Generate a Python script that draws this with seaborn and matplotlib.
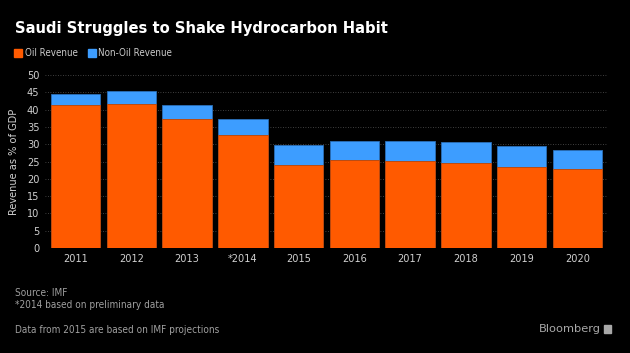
import pandas as pd
import matplotlib.pyplot as plt
import seaborn as sns

years = ['2011', '2012', '2013', '*2014', '2015', '2016', '2017', '2018', '2019', '2020']
oil_revenue = [41.3, 41.6, 37.3, 32.7, 24.1, 25.3, 25.1, 24.7, 23.5, 22.8]
non_oil_revenue = [3.3, 3.8, 4.1, 4.6, 5.8, 5.5, 5.9, 5.8, 5.9, 5.6]

ORANGE = '#ff5a00'
BLUE = '#3d9dff'
BG = '#000000'

df = pd.DataFrame({'year': years, 'oil': oil_revenue, 'non_oil': non_oil_revenue})
df['total'] = df['oil'] + df['non_oil']

sns.set_style('dark')
plt.rcParams['font.family'] = ['DejaVu Sans']
plt.rcParams['font.stretch'] = 'condensed'

fig = plt.figure(figsize=(6.3, 3.53), dpi=100, facecolor=BG)
ax = fig.add_axes([45 / 630, 1 - 248 / 353, 563 / 630, 173 / 353])
ax.set_facecolor(BG)

# stacked: total (blue) behind, oil (orange) in front
sns.barplot(data=df, x='year', y='total', color=BLUE, saturation=1, width=0.89,
            linewidth=0.6, edgecolor='#2a6fb8', ax=ax, zorder=2)
sns.barplot(data=df, x='year', y='oil', color=ORANGE, saturation=1, width=0.89,
            linewidth=0.6, edgecolor='#c04400', ax=ax, zorder=3)

ax.set_ylim(0, 50)
ax.set_xlim(-0.55, 9.55)
ax.set_yticks(range(0, 51, 5))
ax.grid(True, axis='y', linestyle=(0, (1, 2)), color='#555555', linewidth=0.6, zorder=0)
ax.grid(False, axis='x')
for s in ax.spines.values():
    s.set_visible(False)
ax.tick_params(axis='both', colors='#d0d0d0', labelsize=7.8, length=0, pad=4)
ax.set_xlabel('')
ax.set_ylabel('Revenue as % of GDP', color='#d0d0d0', fontsize=7.8, labelpad=6)

fig.text(15 / 630, 1 - 28 / 353, 'Saudi Struggles to Shake Hydrocarbon Habit',
         color='white', fontsize=11.8, fontweight='bold', va='center', ha='left')

# legend
fig.patches.append(plt.Rectangle((14 / 630, 1 - 57 / 353), 8 / 630, 8 / 353,
                                 transform=fig.transFigure, color=ORANGE))
fig.text(25 / 630, 1 - 53.5 / 353, 'Oil Revenue', color='#cccccc', fontsize=7, va='center')
fig.patches.append(plt.Rectangle((88 / 630, 1 - 57 / 353), 8 / 630, 8 / 353,
                                 transform=fig.transFigure, color=BLUE))
fig.text(98 / 630, 1 - 53.5 / 353, 'Non-Oil Revenue', color='#cccccc', fontsize=7, va='center')

# footer
fig.text(15 / 630, 1 - 292.5 / 353, 'Source: IMF', color='#a0a0a0', fontsize=7.2, va='center')
fig.text(15 / 630, 1 - 305 / 353, '*2014 based on preliminary data', color='#a0a0a0', fontsize=7.2, va='center')
fig.text(15 / 630, 1 - 330 / 353, 'Data from 2015 are based on IMF projections', color='#a0a0a0', fontsize=7.2, va='center')
fig.text(601 / 630, 1 - 329 / 353, 'Bloomberg', color='#a8a8a8', fontsize=8.2, va='center', ha='right',
         fontstretch='normal')
fig.patches.append(plt.Rectangle((604 / 630, 1 - 333 / 353), 7 / 630, 8 / 353,
                                 transform=fig.transFigure, color='#a8a8a8'))

plt.savefig('out.png', dpi=100, facecolor=BG)
